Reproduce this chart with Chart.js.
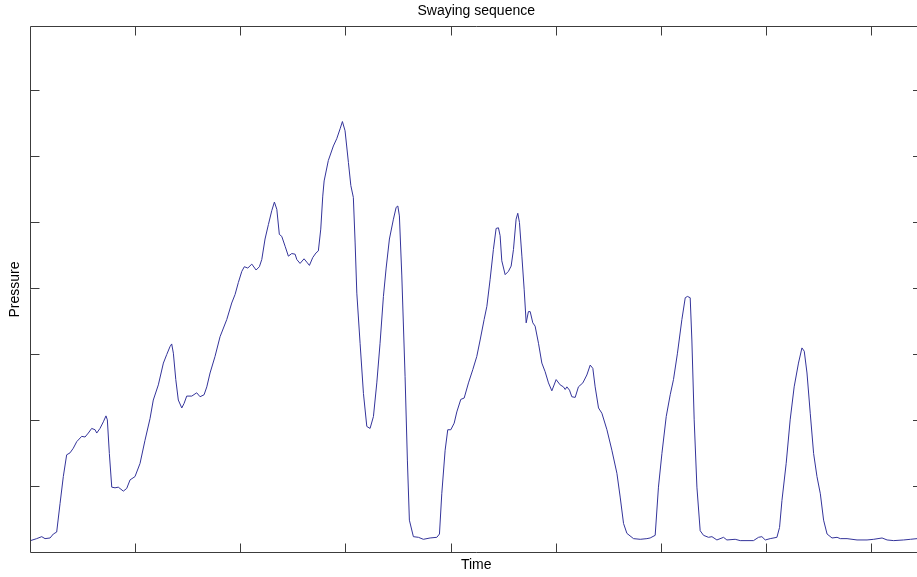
<!DOCTYPE html>
<html>
<head>
<meta charset="utf-8">
<title>Swaying sequence</title>
<script src="https://cdn.jsdelivr.net/npm/chart.js@4.4.1/dist/chart.umd.min.js"></script>
<style>
    html, body { margin: 0; padding: 0; background: #fff; overflow: hidden; }
    #wrap { width: 917px; height: 577px; overflow: hidden; }
    canvas { display: block; }
</style>
</head>
<body>
<div id="wrap"><canvas id="swayChart" width="922" height="577"></canvas></div>
<script>
// values (time in samples, pressure in tick units)
var timeValues = [
    0, 5.9, 10.7, 13.8, 18.6, 21.7, 24.9, 28.1, 31.2, 34.4,
    37.6, 40.7, 44.0, 48.7, 51.9, 55.0, 58.2, 61.4, 63.0, 66.1,
    69.3, 71.8, 73.1, 75.0, 77.3, 80.4, 83.5, 88.3, 91.5, 94.7,
    99.4, 104.2, 108.9, 113.7, 116.8, 121.6, 126.4, 129.6, 132.7, 134.3,
    135.9, 138.2, 140.6, 143.9, 146.1, 148.6, 153.4, 158.1, 161.3, 165.1,
    167.7, 170.8, 175.5, 180.3, 186.7, 191.4, 194.6, 197.7, 201.0, 203.4,
    206.7, 210.5, 214.6, 217.7, 220.0, 223.1, 226.3, 229.5, 232.0, 234.3,
    236.7, 239.0, 242.2, 245.3, 248.5, 251.7, 253.3, 256.4, 260.2, 262.8,
    265.3, 268.5, 271.6, 273.8, 276.1, 278.0, 279.3, 283.3, 288.1, 291.3,
    294.5, 296.7, 299.2, 302.4, 304.7, 307.1, 308.8, 310.4, 313.5, 316.7,
    319.9, 323.0, 326.2, 329.4, 332.5, 335.7, 338.3, 341.4, 345.2, 347.8,
    349.4, 350.9, 353.2, 356.3, 358.5, 360.4, 364.2, 369.0, 373.7, 380.1,
    386.5, 389.0, 391.2, 394.4, 396.9, 399.8, 403.0, 405.5, 409.3, 412.5,
    416.6, 420.7, 424.5, 427.7, 431.5, 434.1, 437.2, 440.3, 442.9, 445.1,
    446.7, 448.3, 451.5, 454.6, 457.2, 459.4, 461.9, 463.5, 465.1, 467.4,
    469.6, 471.5, 473.6, 475.3, 477.8, 480.0, 483.2, 486.4, 489.5, 492.7,
    495.9, 500.0, 503.8, 506.9, 508.6, 510.2, 512.7, 514.9, 518.1, 521.2,
    525.4, 529.2, 532.4, 534.9, 537.1, 540.3, 543.5, 548.3, 553.0, 557.8,
    560.9, 564.1, 567.3, 573.6, 580.0, 586.3, 589.4, 594.2, 597.3, 600.6,
    604.7, 608.5, 611.6, 615.4, 619.6, 622.8, 624.9, 627.5, 629.1, 631.3,
    633.9, 637.0, 640.2, 644.9, 648.2, 652.9, 659.2, 662.4, 670.3, 675.1,
    687.7, 692.5, 695.7, 698.9, 703.6, 710.0, 712.5, 714.8, 718.8, 722.6,
    726.4, 730.5, 733.8, 736.0, 738.6, 741.7, 744.9, 748.1, 751.3, 754.4,
    757.7, 762.4, 767.2, 770.3, 776.7, 786.2, 795.7, 802.1, 810.0, 814.8,
    821.1, 830.6, 837.0, 843.3
];

var pressureValues = [
    0.18, 0.21, 0.24, 0.21, 0.22, 0.28, 0.31, 0.74, 1.15, 1.48,
    1.51, 1.58, 1.68, 1.76, 1.75, 1.81, 1.88, 1.86, 1.81, 1.88,
    1.98, 2.07, 2.01, 1.50, 0.99, 0.98, 0.99, 0.93, 0.97, 1.10,
    1.15, 1.35, 1.70, 2.03, 2.31, 2.54, 2.87, 3.00, 3.12, 3.16,
    3.02, 2.62, 2.31, 2.19, 2.26, 2.37, 2.37, 2.42, 2.36, 2.39,
    2.51, 2.72, 2.97, 3.27, 3.53, 3.78, 3.91, 4.09, 4.26, 4.33,
    4.31, 4.37, 4.28, 4.33, 4.44, 4.75, 4.97, 5.18, 5.31, 5.20,
    4.82, 4.79, 4.64, 4.49, 4.53, 4.52, 4.44, 4.38, 4.45, 4.40,
    4.35, 4.47, 4.54, 4.57, 4.90, 5.40, 5.63, 5.94, 6.16, 6.27,
    6.42, 6.53, 6.39, 5.91, 5.56, 5.38, 4.69, 3.93, 3.17, 2.41,
    1.91, 1.88, 2.06, 2.57, 3.17, 3.88, 4.31, 4.75, 5.05, 5.23,
    5.25, 5.10, 4.19, 2.67, 1.40, 0.49, 0.24, 0.23, 0.20, 0.22,
    0.23, 0.28, 0.89, 1.55, 1.86, 1.86, 1.96, 2.13, 2.32, 2.34,
    2.57, 2.77, 2.97, 3.22, 3.53, 3.73, 4.14, 4.59, 4.91, 4.92,
    4.80, 4.42, 4.21, 4.26, 4.34, 4.59, 5.05, 5.14, 5.00, 4.49,
    3.98, 3.48, 3.65, 3.65, 3.48, 3.43, 3.17, 2.87, 2.74, 2.57,
    2.45, 2.62, 2.54, 2.51, 2.47, 2.51, 2.46, 2.36, 2.35, 2.51,
    2.57, 2.69, 2.84, 2.79, 2.51, 2.19, 2.11, 1.86, 1.55, 1.20,
    0.84, 0.44, 0.29, 0.21, 0.20, 0.21, 0.22, 0.26, 0.99, 1.50,
    2.06, 2.39, 2.62, 3.02, 3.53, 3.86, 3.88, 3.86, 3.22, 2.01,
    0.99, 0.33, 0.26, 0.23, 0.24, 0.19, 0.23, 0.19, 0.20, 0.18,
    0.18, 0.23, 0.24, 0.19, 0.21, 0.23, 0.38, 0.79, 1.35, 2.01,
    2.51, 2.87, 3.10, 3.05, 2.72, 2.11, 1.50, 1.15, 0.89, 0.49,
    0.28, 0.22, 0.23, 0.21, 0.21, 0.19, 0.19, 0.20, 0.22, 0.19,
    0.18, 0.19, 0.20, 0.21
];

// unlabelled tick positions (matlab style, ticks on all four sides)
var xTickValues = [100, 200, 300, 400, 500, 600, 700, 800];
var yTickValues = [1, 2, 3, 4, 5, 6, 7];

var X_MAX = 848;
var Y_MAX = 7.97;

var points = [];
for (var i = 0; i < timeValues.length; i++) {
    points.push({ x: timeValues[i], y: pressureValues[i] });
}

// box around the axes + inward ticks
var boxPlugin = {
    id: 'matlabBox',
    afterDraw: function(chart) {
        var ctx = chart.ctx;
        var a = chart.chartArea;
        var xs = chart.scales.x;
        var ys = chart.scales.y;
        var len = 9;
        ctx.save();
        ctx.strokeStyle = '#3c3c3c';
        ctx.lineWidth = 1;
        ctx.beginPath();
        ctx.rect(a.left, a.top, a.right - a.left, a.bottom - a.top);
        for (var i = 0; i < xTickValues.length; i++) {
            var px = Math.floor(xs.getPixelForValue(xTickValues[i])) + 0.5;
            ctx.moveTo(px, a.bottom);
            ctx.lineTo(px, a.bottom - len);
            ctx.moveTo(px, a.top);
            ctx.lineTo(px, a.top + len);
        }
        for (var j = 0; j < yTickValues.length; j++) {
            var py = Math.floor(ys.getPixelForValue(yTickValues[j])) + 0.5;
            ctx.moveTo(a.left, py);
            ctx.lineTo(a.left + len, py);
            ctx.moveTo(a.right, py);
            ctx.lineTo(a.right - len, py);
        }
        ctx.stroke();
        ctx.restore();
    }
};

var font = { family: '"Liberation Sans", Arial, Helvetica, sans-serif', size: 14, weight: 'normal', lineHeight: 1.2 };

var swayChart = new Chart(document.getElementById('swayChart'), {
    type: 'line',
    data: {
        datasets: [{
            label: 'Pressure',
            data: points,
            borderColor: '#34349a',
            borderWidth: 1,
            pointRadius: 0,
            tension: 0,
            fill: false
        }]
    },
    options: {
        responsive: false,
        animation: false,
        devicePixelRatio: 1,
        layout: { padding: { left: 0, right: 0, top: 0, bottom: 0 } },
        plugins: {
            legend: { display: false },
            tooltip: { enabled: false },
            title: {
                display: true,
                text: 'Swaying sequence',
                color: '#000',
                font: font,
                fullSize: false,
                padding: { top: 3, bottom: 6.7 }
            }
        },
        scales: {
            x: {
                type: 'linear',
                min: 0,
                max: X_MAX,
                ticks: { display: false },
                grid: { display: false, drawTicks: false },
                border: { display: false },
                title: { display: true, text: 'Time', color: '#000', font: font, padding: { top: 4.7, bottom: 3 } }
            },
            y: {
                type: 'linear',
                min: 0,
                max: Y_MAX,
                ticks: { display: false },
                grid: { display: false, drawTicks: false },
                border: { display: false },
                title: { display: true, text: 'Pressure', color: '#000', font: font, padding: { top: 7, bottom: 6.7 } }
            }
        }
    },
    plugins: [boxPlugin]
});
</script>
</body>
</html>
